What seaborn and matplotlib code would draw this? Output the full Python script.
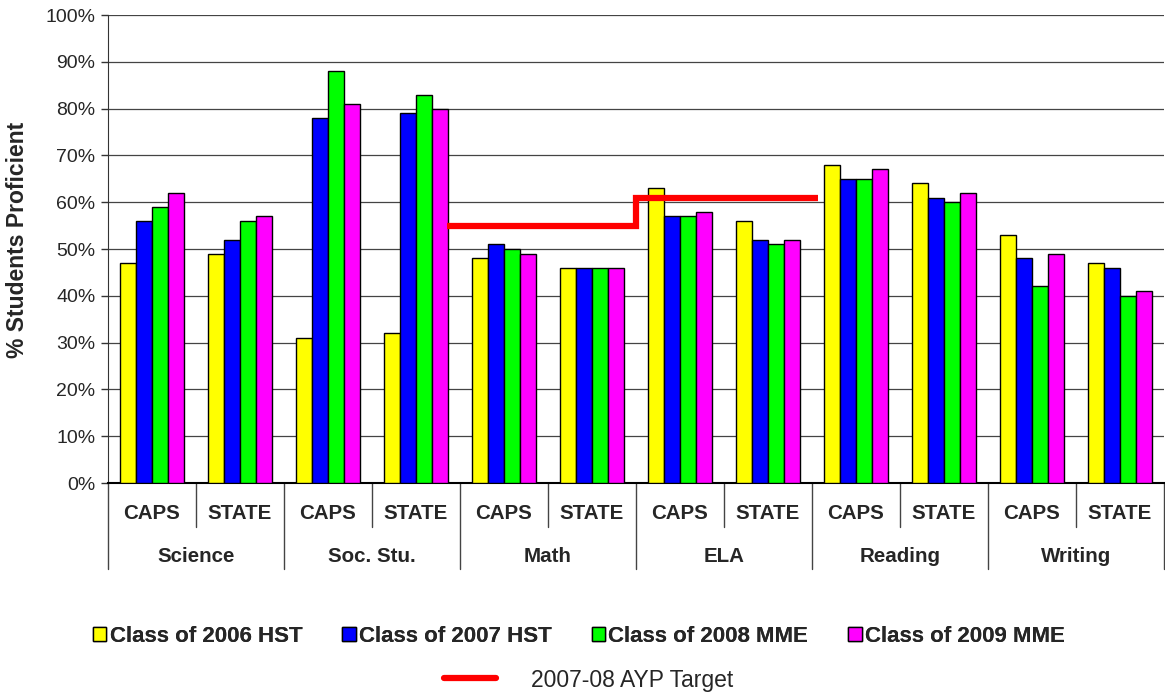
import pandas as pd
import matplotlib.pyplot as plt
import seaborn as sns
from matplotlib.patches import Patch
from matplotlib.lines import Line2D
from matplotlib.ticker import PercentFormatter
import matplotlib.transforms as mtransforms

subjects = ["Science", "Soc. Stu.", "Math", "ELA", "Reading", "Writing"]
levels = ["CAPS", "STATE"]
classes = ["Class of 2006 HST", "Class of 2007 HST", "Class of 2008 MME", "Class of 2009 MME"]
colors = ["#FFFF00", "#0000FF", "#00FF00", "#FF00FF"]

class_2006 = [47, 49, 31, 32, 48, 46, 63, 56, 68, 64, 53, 47]
class_2007 = [56, 52, 78, 79, 51, 46, 57, 52, 65, 61, 48, 46]
class_2008 = [59, 56, 88, 83, 50, 46, 57, 51, 65, 60, 42, 40]
class_2009 = [62, 57, 81, 80, 49, 46, 58, 52, 67, 62, 49, 41]

# AYP target step line (category positions, percent)
ayp_x = [3.35, 5.5, 5.5, 7.57]
ayp_y = [55, 55, 61, 61]
ayp_label = "2007-08 AYP Target"

cats = [f"{s} {l}" for s in subjects for l in levels]
rows = []
for name, vals in zip(classes, [class_2006, class_2007, class_2008, class_2009]):
    for c, v in zip(cats, vals):
        rows.append({"cat": c, "cls": name, "val": v})
df = pd.DataFrame(rows)

sns.set_style("white")
plt.rcParams["font.family"] = ["Liberation Sans", "DejaVu Sans"]

fig = plt.figure(figsize=(11.65, 6.96), dpi=100)
ax = fig.add_axes([108 / 1165, 1 - 483 / 696, 1056 / 1165, 468 / 696])

sns.barplot(data=df, x="cat", y="val", hue="cls", palette=colors, width=0.73,
            saturation=1, edgecolor="black", linewidth=1, ax=ax, legend=False, zorder=3)

ax.plot(ayp_x, ayp_y, color="#FF0000", lw=4.5, solid_capstyle="butt",
        solid_joinstyle="miter", zorder=4)

ax.set_xlim(-0.5, 11.5)
ax.set_ylim(0, 100)
ax.set_yticks(range(0, 101, 10))
ax.yaxis.set_major_formatter(PercentFormatter(decimals=0))
ax.tick_params(axis="y", labelsize=14, length=5, width=1, color="#333", left=True, pad=4)
ax.set_xticks([])
ax.set_xlabel("")
ax.set_ylabel("")
ax.grid(axis="y", color="#444", lw=0.9, zorder=0)
for s in ["top", "right"]:
    ax.spines[s].set_visible(False)
ax.spines["left"].set_color("#333")
ax.spines["bottom"].set_color("black")
ax.spines["bottom"].set_linewidth(1.5)

# two-level category labels
trans = mtransforms.blended_transform_factory(ax.transData, ax.transAxes)
for i, c in enumerate(cats):
    ax.text(i, -0.066, levels[i % 2], transform=trans, ha="center", va="center",
            fontsize=14.8, fontweight="bold")
for g, s in enumerate(subjects):
    ax.text(2 * g + 0.5, -0.156, s, transform=trans, ha="center", va="center",
            fontsize=14.8, fontweight="bold")
    ax.plot([2 * g + 0.5] * 2, [0, -0.094], transform=trans, color="#444", lw=1, clip_on=False)
for g in range(len(subjects) + 1):
    ax.plot([2 * g - 0.5] * 2, [0, -0.184], transform=trans, color="#444", lw=1, clip_on=False)

fig.text(18 / 1165, 1 - 240 / 696, "% Students Proficient", rotation=90, ha="center",
         va="center", fontsize=16.5, fontweight="bold")

handles = [Patch(facecolor=c, edgecolor="black", label=n) for c, n in zip(colors, classes)]
leg1 = fig.legend(handles=handles, loc="center", bbox_to_anchor=(0.497, 1 - 636 / 696), ncol=4,
                  frameon=False, handlelength=0.6, handleheight=0.6, handletextpad=0.15,
                  columnspacing=1.8, borderaxespad=0, borderpad=0,
                  prop={"size": 16, "weight": "bold"})
fig.add_artist(leg1)
fig.legend(handles=[Line2D([], [], color="#FF0000", lw=4.5, label=ayp_label)], loc="center",
           bbox_to_anchor=(0.505, 1 - 680 / 696), frameon=False, handlelength=2.3,
           handletextpad=1.5, borderaxespad=0, borderpad=0, prop={"size": 16.5})

fig.savefig("out.png", dpi=100)
